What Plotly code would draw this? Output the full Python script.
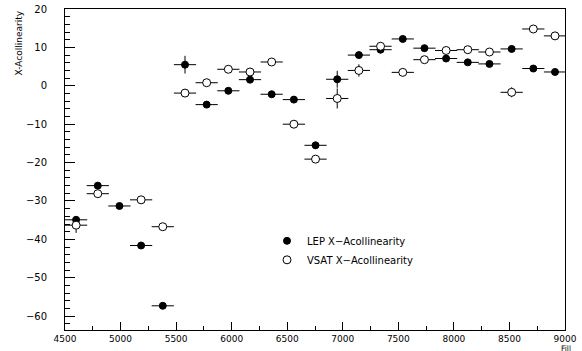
import plotly.graph_objects as go

fills = [4600, 4795, 4990, 5185, 5380, 5580, 5775, 5970, 6165, 6360, 6560, 6755,
         6950, 7145, 7340, 7540, 7735, 7930, 8125, 8320, 8520, 8715, 8910]
fill_halfwidth = [100] * len(fills)

lep_values = [-34.9, -26.0, -31.3, -41.6, -57.3, 5.5, -4.9, -1.3, 1.6, -2.2, -3.6, -15.5,
              1.7, 8.0, 9.4, 12.2, 9.8, 7.1, 6.1, 5.7, 9.6, 4.5, 3.6]
lep_errors = [1.0, 0.8, 0.8, 0.7, 0.6, 2.3, 0.8, 0.8, 0.8, 0.7, 0.8, 0.9,
              2.2, 0.9, 0.9, 0.8, 0.8, 0.8, 0.7, 0.7, 0.8, 0.8, 0.8]

vsat_values = [-36.3, -28.1, None, -29.7, -36.7, -1.9, 0.8, 4.3, 3.6, 6.2, -10.0, -19.1,
               -3.3, 4.0, 10.3, 3.5, 6.8, 9.2, 9.4, 8.8, -1.7, 14.8, 13.0]
vsat_errors = [2.0, 0.8, 0.8, 0.8, 0.8, 0.9, 0.8, 0.8, 0.8, 0.8, 0.8, 0.8,
               2.6, 1.6, 0.9, 0.8, 0.9, 0.8, 0.8, 0.8, 1.3, 0.8, 0.8]

x_range = [4500, 9000]
y_range = [-63.6, 20]
x_ticks = [4500, 5000, 5500, 6000, 6500, 7000, 7500, 8000, 8500, 9000]
y_ticks = [-60, -50, -40, -30, -20, -10, 0, 10, 20]

FONT = "DejaVu Sans"

fig = go.Figure()
fig.add_trace(go.Scatter(
    x=fills, y=lep_values, mode="markers", name="LEP X\u2212Acollinearity",
    marker=dict(symbol="circle", size=7, color="black", line=dict(color="black", width=1)),
    error_x=dict(type="data", array=fill_halfwidth, color="black", thickness=1, width=0),
    error_y=dict(type="data", array=lep_errors, color="black", thickness=1, width=0),
))
fig.add_trace(go.Scatter(
    x=fills, y=vsat_values, mode="markers", name="VSAT X\u2212Acollinearity",
    marker=dict(symbol="circle", size=8, color="white", line=dict(color="black", width=1)),
    error_x=dict(type="data", array=fill_halfwidth, color="black", thickness=1, width=0),
    error_y=dict(type="data", array=vsat_errors, color="black", thickness=1, width=0),
))

axis_common = dict(
    showgrid=False, zeroline=False, showline=True, linecolor="black", linewidth=1,
    mirror=True, ticks="inside", tickcolor="black", tickwidth=1, automargin=False,
    ticklabeloverflow="allow",
)

fig.update_layout(
    width=582, height=351,
    margin=dict(l=65, r=17, t=9, b=21),
    paper_bgcolor="white", plot_bgcolor="white",
    font=dict(family=FONT, size=10, color="black"),
    showlegend=True,
    xaxis=dict(range=x_range, tickvals=x_ticks, ticklen=8,
               tickfont=dict(family=FONT, size=9, color="black"),
               minor=dict(dtick=250, ticks="inside", ticklen=4, tickcolor="black", tickwidth=1),
               **axis_common),
    yaxis=dict(range=y_range, tickvals=y_ticks, ticklen=10, ticklabelstandoff=15,
               tickfont=dict(family=FONT, size=10, color="black"),
               minor=dict(dtick=2, ticks="inside", ticklen=5, tickcolor="black", tickwidth=1),
               **axis_common),
    legend=dict(x=0.404, y=0.323, xanchor="left", yanchor="top", bgcolor="rgba(0,0,0,0)",
                font=dict(family=FONT, size=10, color="black")),
    annotations=[
        dict(text="X-Acollinearity", xref="paper", yref="paper", x=-0.094, y=1.0,
             xanchor="center", yanchor="top", textangle=-90, showarrow=False,
             font=dict(family=FONT, size=9, color="black")),
        dict(text="Fill", xref="paper", yref="paper", x=1.002, y=-0.077,
             xanchor="center", yanchor="bottom", showarrow=False,
             font=dict(family=FONT, size=7.5, color="black")),
    ],
)

fig.write_html("out.html", config={"displayModeBar": False},
               post_script="document.body.style.margin='0';document.body.style.overflow='hidden';")
